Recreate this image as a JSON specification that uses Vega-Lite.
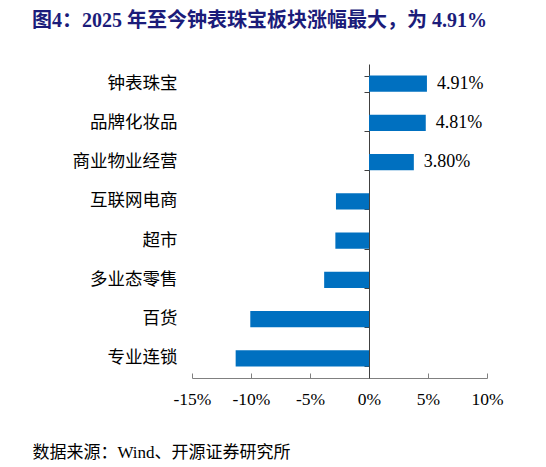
{
  "$schema": "https://vega.github.io/schema/vega-lite/v6.json",
  "width": 295,
  "height": 314,
  "autosize": {"type": "none"},
  "padding": {"left": 192, "top": 64, "right": 59, "bottom": 89},
  "background": "white",
  "config": {"font": "Liberation Serif, Noto Sans CJK SC", "view": {"stroke": null}},
  "title": {
    "text": "图4：2025 年至今钟表珠宝板块涨幅最大，为 4.91%",
    "anchor": "start",
    "frame": "group",
    "dx": -160,
    "offset": 17,
    "baseline": "alphabetic",
    "fontSize": 20,
    "fontWeight": "bold",
    "color": "#1B1C7A",
    "font": "Liberation Serif, Noto Sans CJK SC"
  },
  "data": {
    "values": [
      {"category": "钟表珠宝", "value": 4.91, "label": "4.91%"},
      {"category": "品牌化妆品", "value": 4.81, "label": "4.81%"},
      {"category": "商业物业经营", "value": 3.80, "label": "3.80%"},
      {"category": "互联网电商", "value": -2.8, "label": ""},
      {"category": "超市", "value": -2.85, "label": ""},
      {"category": "多业态零售", "value": -3.8, "label": ""},
      {"category": "百货", "value": -10.06, "label": ""},
      {"category": "专业连锁", "value": -11.3, "label": ""}
    ]
  },
  "encoding": {
    "x": {
      "field": "value",
      "type": "quantitative",
      "scale": {"domain": [-15, 10], "nice": false},
      "axis": {
        "values": [-15, -10, -5, 0, 5, 10],
        "labelExpr": "datum.value + '%'",
        "labelFlush": false,
        "grid": false,
        "domainColor": "#808080",
        "tickColor": "#808080",
        "tickSize": -5,
        "labelPadding": 17,
        "labelFontSize": 17.5,
        "labelColor": "#000000",
        "title": "数据来源：Wind、开源证券研究所",
        "titleX": -160,
        "titleY": 74,
        "titleAlign": "left",
        "titleAnchor": "start",
        "titleBaseline": "middle",
        "titleFontSize": 17,
        "titleFontWeight": "normal",
        "titleColor": "#000000"
      }
    }
  },
  "layer": [
    {
      "mark": {"type": "bar", "color": "#0070C0"},
      "encoding": {
        "y": {
          "field": "category",
          "type": "nominal",
          "sort": null,
          "scale": {"paddingInner": 0.59, "paddingOuter": 0.295},
          "axis": {
            "title": null,
            "orient": "left",
            "domain": false,
            "ticks": false,
            "labelPadding": 15,
            "labelFontSize": 17.5,
            "labelColor": "#000000"
          }
        }
      }
    },
    {
      "mark": {"type": "text", "align": "left", "baseline": "middle", "dx": 10, "fontSize": 18, "color": "#000000"},
      "encoding": {
        "y": {
          "field": "category",
          "type": "nominal",
          "sort": null,
          "axis": {
            "title": null,
            "orient": "left",
            "offset": -177,
            "labels": false,
            "domain": true,
            "domainColor": "#404040",
            "ticks": true,
            "tickBand": "extent",
            "tickSize": 5,
            "tickColor": "#404040"
          }
        },
        "text": {"field": "label"}
      }
    }
  ],
  "resolve": {"axis": {"y": "independent"}}
}
